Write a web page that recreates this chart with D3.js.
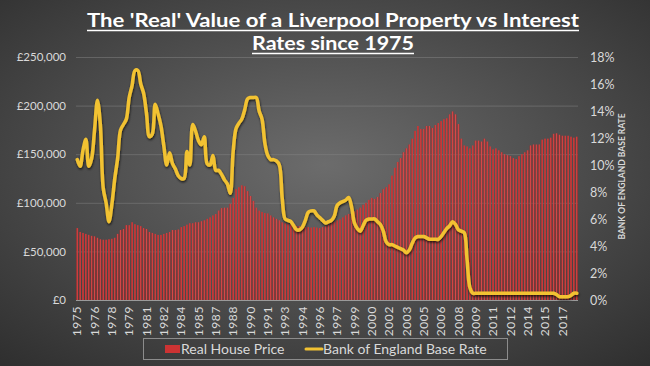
<!DOCTYPE html>
<html>
<head>
<meta charset="utf-8">
<script src="https://cdn.jsdelivr.net/npm/d3@7"></script>
<style>
  html, body { margin: 0; padding: 0; background: #3a3a3a; }
  svg { display: block; }
</style>
</head>
<body>
<div id="chart"></div>
<script>
(function () {
  'use strict';

  // quarterly, 1975 Q1 .. 2018 Q2
  var START_YEAR = 1975;
  var LABEL_EVERY = 6;

  var housePrice = [
    74, 70, 69, 68, 67, 66, 65.5, 64, 62.5, 62, 62, 62.5, 63, 64, 68, 72,
    73, 77, 77, 80, 78, 77, 76, 74, 73, 70, 69, 68, 67, 67, 68, 69,
    70, 72, 72, 72.5, 75, 76, 77.5, 79, 79, 80, 80, 81, 82, 83.5, 85, 87,
    88.5, 92, 94.5, 95, 95, 99, 105, 114, 116, 118, 117, 112, 107, 102, 95, 92,
    90.5, 89.5, 89, 87, 85, 83.5, 82, 80, 79, 78, 77.5, 77, 76, 76, 75, 75,
    75, 74.5, 75, 74.5, 74, 75, 76, 77.5, 79, 80.5, 82, 83, 85, 87, 88.5, 89,
    91, 93, 95, 98, 100, 103, 105, 104, 106, 110, 114, 116, 119, 128, 136, 142,
    146, 152, 156, 160, 166, 174, 179, 176, 176, 179, 179, 177, 180, 182, 184, 186,
    187, 191, 194, 191, 181, 166, 159, 158, 156, 159, 164, 164, 163, 166, 163, 158,
    155, 156, 154, 152, 150, 149, 148, 146, 145, 148, 150, 152, 154, 159, 160, 160,
    160, 165, 166, 166, 167, 171, 171.5, 170, 169, 169, 169, 168, 167, 168
  ];

  var baseRate = [
    10.4, 9.9, 11.1, 11.9, 9.9, 10.5, 12.6, 14.8, 13.0, 8.3, 7.2, 5.8, 7.1, 9.0, 10.5, 12.6,
    13.0, 13.4, 15.0, 15.9, 17.0, 17.0, 16.0, 15.3, 13.8, 12.1, 12.3, 14.5, 13.8, 12.9, 11.4, 10.0,
    10.9, 10.1, 9.7, 9.2, 9.0, 9.0, 11.0, 10.0, 13.0, 12.5, 11.8, 11.5, 12.1, 10.1, 10.0, 10.7,
    9.6, 9.6, 9.3, 8.9, 8.6, 7.9, 11.0, 12.7, 13.1, 13.4, 14.1, 14.9, 15.0, 15.0, 15.0, 14.0,
    13.4, 11.6, 10.7, 10.4, 10.4, 10.3, 10.0, 7.5, 6.0, 5.9, 5.8, 5.5, 5.2, 5.2, 5.4, 5.9,
    6.5, 6.6, 6.6, 6.3, 6.1, 5.9, 5.7, 5.8, 5.9, 6.2, 7.0, 7.2, 7.3, 7.4, 7.6, 6.9,
    5.7, 5.3, 5.1, 5.5, 5.9, 6.0, 6.0, 6.0, 5.8, 5.6, 5.1, 4.3, 4.1, 4.1, 4.0, 3.9,
    3.8, 3.7, 3.5, 3.7, 4.2, 4.6, 4.7, 4.7, 4.7, 4.6, 4.5, 4.5, 4.5, 4.5, 4.7, 5.0,
    5.3, 5.5, 5.8, 5.6, 5.2, 5.1, 5.0, 3.0, 0.9, 0.5, 0.5, 0.5, 0.5, 0.5, 0.5, 0.5,
    0.5, 0.5, 0.5, 0.5, 0.5, 0.5, 0.5, 0.5, 0.5, 0.5, 0.5, 0.5, 0.5, 0.5, 0.5, 0.5,
    0.5, 0.5, 0.5, 0.5, 0.5, 0.5, 0.4, 0.25, 0.25, 0.25, 0.25, 0.35, 0.5, 0.5
  ];

  var priceTicks = [0, 50000, 100000, 150000, 200000, 250000];
  var rateTicks = [0, 2, 4, 6, 8, 10, 12, 14, 16, 18];

  var titleLines = ['The \'Real\' Value of a Liverpool Property vs Interest', 'Rates since 1975'];
  var seriesNames = ['Real House Price', 'Bank of England Base Rate'];
  var rightAxisTitle = 'BANK OF ENGLAND BASE RATE';

  var WIDTH = 650;
  var HEIGHT = 366;
  var MARGIN = { top: 57, right: 72, bottom: 66, left: 76 };
  var FONT = 'Lato, "Open Sans", sans-serif';
  var TEXT = '#d9d9d9';

  var quarters = housePrice.map(function (d, i) { return i; });

  var svg = d3.select('#chart').append('svg')
    .attr('width', WIDTH)
    .attr('height', HEIGHT);

  var defs = svg.append('defs');

  var bg = defs.append('radialGradient')
    .attr('id', 'bg')
    .attr('cx', '50%').attr('cy', '45%').attr('r', '75%');
  bg.append('stop').attr('offset', '0%').attr('stop-color', '#6c6c6c');
  bg.append('stop').attr('offset', '100%').attr('stop-color', '#2e2e2e');

  var barFill = defs.append('linearGradient')
    .attr('id', 'barFill')
    .attr('x1', 0).attr('x2', 1).attr('y1', 0).attr('y2', 0);
  barFill.append('stop').attr('offset', '0%').attr('stop-color', '#a82a2a');
  barFill.append('stop').attr('offset', '50%').attr('stop-color', '#d84848');
  barFill.append('stop').attr('offset', '100%').attr('stop-color', '#a82a2a');

  var shadow = defs.append('filter')
    .attr('id', 'lineShadow')
    .attr('x', '-5%').attr('y', '-10%').attr('width', '110%').attr('height', '130%');
  shadow.append('feDropShadow')
    .attr('dx', 0.5).attr('dy', 1.5)
    .attr('stdDeviation', 1.2)
    .attr('flood-color', '#000')
    .attr('flood-opacity', 0.75);

  svg.append('rect')
    .attr('width', WIDTH)
    .attr('height', HEIGHT)
    .attr('fill', 'url(#bg)');

  var innerW = WIDTH - MARGIN.left - MARGIN.right;
  var innerH = HEIGHT - MARGIN.top - MARGIN.bottom;

  var x = d3.scaleBand()
    .domain(quarters)
    .range([MARGIN.left, MARGIN.left + innerW])
    .paddingInner(0.35)
    .paddingOuter(0.1);

  var yPrice = d3.scaleLinear()
    .domain([0, 250000])
    .range([MARGIN.top + innerH, MARGIN.top]);

  var yRate = d3.scaleLinear()
    .domain([0, 18])
    .range([MARGIN.top + innerH, MARGIN.top]);

  // gridlines
  svg.append('g')
    .attr('class', 'grid')
    .selectAll('line')
    .data(priceTicks.slice(1))
    .enter().append('line')
    .attr('x1', MARGIN.left)
    .attr('x2', MARGIN.left + innerW)
    .attr('y1', function (d) { return yPrice(d) + 0.5; })
    .attr('y2', function (d) { return yPrice(d) + 0.5; })
    .attr('stroke', '#8a8a8a')
    .attr('stroke-opacity', 0.45)
    .attr('stroke-width', 1);

  // bars
  svg.append('g')
    .attr('class', 'bars')
    .selectAll('rect')
    .data(housePrice)
    .enter().append('rect')
    .attr('x', function (d, i) { return x(i); })
    .attr('width', x.bandwidth())
    .attr('y', function (d) { return yPrice(d * 1000); })
    .attr('height', function (d) { return yPrice(0) - yPrice(d * 1000); })
    .attr('fill', 'url(#barFill)');

  // baseline
  svg.append('line')
    .attr('x1', MARGIN.left)
    .attr('x2', MARGIN.left + innerW)
    .attr('y1', yPrice(0) + 0.5)
    .attr('y2', yPrice(0) + 0.5)
    .attr('stroke', '#9a9a9a')
    .attr('stroke-width', 1);

  // base rate line
  var rateLine = d3.line()
    .x(function (d, i) { return x(i) + x.bandwidth() / 2; })
    .y(function (d) { return yRate(d); })
    .curve(d3.curveCatmullRom.alpha(0.5));

  svg.append('path')
    .datum(baseRate)
    .attr('d', rateLine)
    .attr('fill', 'none')
    .attr('stroke', '#f2c232')
    .attr('stroke-width', 3.5)
    .attr('stroke-linejoin', 'round')
    .attr('stroke-linecap', 'round')
    .attr('filter', 'url(#lineShadow)');

  // left axis
  var leftAxis = svg.append('g')
    .attr('transform', 'translate(' + (MARGIN.left - 10) + ',0)')
    .call(d3.axisLeft(yPrice)
      .tickValues(priceTicks)
      .tickSize(0)
      .tickPadding(0)
      .tickFormat(function (d) { return '£' + d3.format(',')(d); }));
  leftAxis.select('.domain').remove();
  leftAxis.selectAll('text')
    .attr('fill', TEXT)
    .style('font-family', FONT)
    .style('font-size', '11.5px');

  // right axis
  var rightAxis = svg.append('g')
    .attr('transform', 'translate(' + (MARGIN.left + innerW + 12) + ',0)')
    .call(d3.axisRight(yRate)
      .tickValues(rateTicks)
      .tickSize(0)
      .tickPadding(0)
      .tickFormat(function (d) { return d + '%'; }));
  rightAxis.select('.domain').remove();
  rightAxis.selectAll('text')
    .attr('fill', TEXT)
    .style('font-family', FONT)
    .style('font-size', '12.5px');

  svg.append('text')
    .attr('transform', 'translate(625,' + (MARGIN.top + innerH / 2 - 2) + ') rotate(-90)')
    .attr('text-anchor', 'middle')
    .attr('fill', TEXT)
    .style('font-family', FONT)
    .style('font-size', '8.5px')
    .style('font-weight', 'bold')
    .text(rightAxisTitle);

  // bottom axis (label every 6th quarter)
  var bottomAxis = svg.append('g')
    .attr('transform', 'translate(0,' + (yPrice(0) + 6) + ')')
    .call(d3.axisBottom(x)
      .tickValues(quarters.filter(function (d) { return d % LABEL_EVERY === 0; }))
      .tickSize(0)
      .tickPadding(0)
      .tickFormat(function (d) { return START_YEAR + Math.floor(d / 4); }));
  bottomAxis.select('.domain').remove();
  bottomAxis.selectAll('text')
    .attr('transform', 'rotate(-90)')
    .attr('text-anchor', 'end')
    .attr('dy', '0.35em')
    .attr('x', 0)
    .attr('y', 0)
    .attr('fill', TEXT)
    .style('font-family', FONT)
    .style('font-size', '12px')
    .style('letter-spacing', '0.6px');

  // title
  var title = svg.append('g').attr('class', 'title');
  [{ text: titleLines[0], y: 27, len: 492 }, { text: titleLines[1], y: 50, len: 162 }].forEach(function (t) {
    title.append('text')
      .attr('x', 333)
      .attr('y', t.y)
      .attr('text-anchor', 'middle')
      .attr('textLength', t.len)
      .attr('lengthAdjust', 'spacingAndGlyphs')
      .attr('fill', '#ffffff')
      .style('font-family', FONT)
      .style('font-size', '19px')
      .style('font-weight', 'bold')
      .text(t.text);
    title.append('line')
      .attr('x1', 333 - t.len / 2)
      .attr('x2', 333 + t.len / 2)
      .attr('y1', t.y + 3.5)
      .attr('y2', t.y + 3.5)
      .attr('stroke', '#ffffff')
      .attr('stroke-width', 1.6);
  });

  // legend
  var legend = svg.append('g').attr('class', 'legend');
  legend.append('rect')
    .attr('x', 143.5)
    .attr('y', 338.5)
    .attr('width', 364)
    .attr('height', 21)
    .attr('fill', 'none')
    .attr('stroke', '#8c8c8c')
    .attr('stroke-width', 1);
  legend.append('rect')
    .attr('x', 165)
    .attr('y', 345)
    .attr('width', 15)
    .attr('height', 8)
    .attr('fill', '#cc3333');
  legend.append('text')
    .attr('x', 181)
    .attr('y', 353.5)
    .attr('fill', TEXT)
    .style('font-family', FONT)
    .style('font-size', '14px')
    .text(seriesNames[0]);
  legend.append('line')
    .attr('x1', 306)
    .attr('x2', 322)
    .attr('y1', 349)
    .attr('y2', 349)
    .attr('stroke', '#f2c232')
    .attr('stroke-width', 3)
    .attr('stroke-linecap', 'round');
  legend.append('text')
    .attr('x', 323)
    .attr('y', 353.5)
    .attr('fill', TEXT)
    .style('font-family', FONT)
    .style('font-size', '14px')
    .text(seriesNames[1]);
})();
</script>
</body>
</html>
